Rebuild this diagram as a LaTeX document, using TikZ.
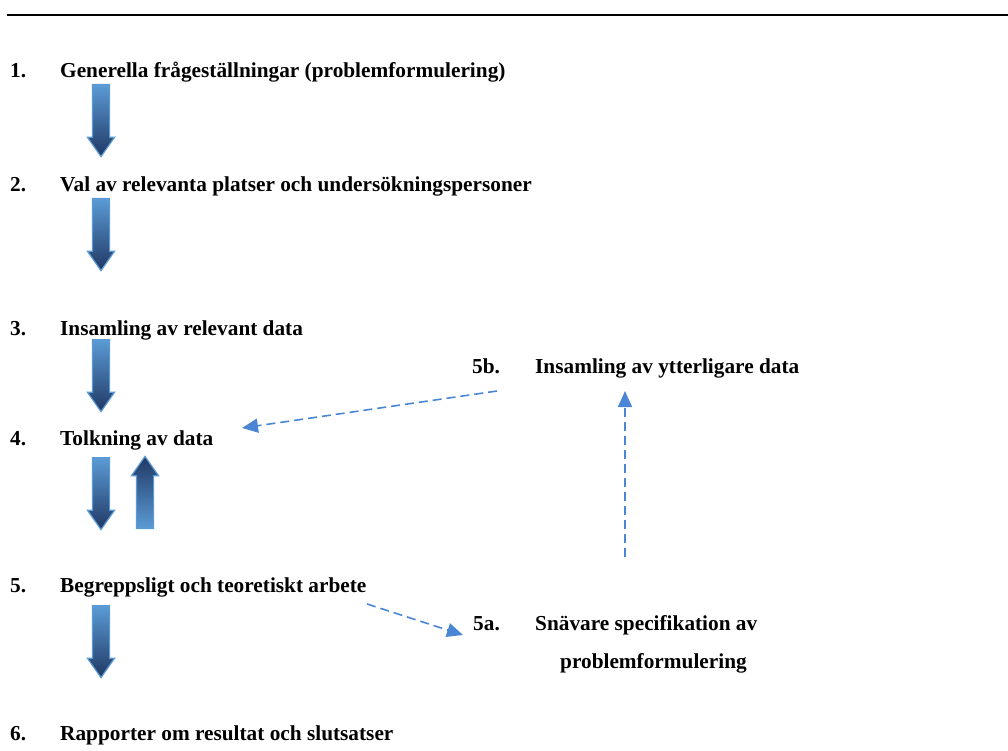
\documentclass[tikz,border=0pt]{standalone}
\usepackage{fontspec}
\setmainfont{Liberation Serif}
\usetikzlibrary{shapes.arrows,arrows.meta}

\definecolor{arrowlight}{HTML}{5B9BD5}
\definecolor{arrowdark}{HTML}{203864}
\definecolor{dashblue}{HTML}{4A86D4}

\tikzset{
	steptext/.style={anchor=base west, inner sep=0pt, font=\fontsize{21.3}{25}\selectfont\bfseries},
	blockdown/.style={single arrow, shape border rotate=270, anchor=tail, draw=arrowlight, line width=1.2pt,
		top color=arrowlight, bottom color=arrowdark, minimum height=72pt, minimum width=26pt,
		inner sep=8pt, single arrow head extend=5pt, single arrow tip angle=70},
	blockup/.style={blockdown, shape border rotate=90, top color=arrowdark, bottom color=arrowlight},
	dashlink/.style={dashblue, line width=1.6pt, dash pattern=on 9pt off 5pt,
		-{Triangle[length=16pt,width=14pt]}}
}

\begin{document}
\begin{tikzpicture}[x=1pt, y=-1pt]
	%\draw[help lines] (0,0) grid (1008,751);
	\useasboundingbox (0,0) rectangle (1008,751);
	\draw [line width=2pt] (7,15) -- (1008,15);

	\node [steptext] (num1) at (10, 78) {1.};
	\node [steptext] (step1) at (60, 78) {Generella frågeställningar (problemformulering)};
	\node [steptext] (num2) at (10, 192) {2.};
	\node [steptext] (step2) at (60, 192) {Val av relevanta platser och undersökningspersoner};
	\node [steptext] (num3) at (10, 335) {3.};
	\node [steptext] (step3) at (60, 335) {Insamling av relevant data};
	\node [steptext] (num4) at (10, 445) {4.};
	\node [steptext] (step4) at (60, 445) {Tolkning av data};
	\node [steptext] (num5) at (10, 592) {5.};
	\node [steptext] (step5) at (60, 592) {Begreppsligt och teoretiskt arbete};
	\node [steptext] (num6) at (10, 740) {6.};
	\node [steptext] (step6) at (60, 740) {Rapporter om resultat och slutsatser};

	\node [steptext] (num5b) at (472, 373) {5b.};
	\node [steptext] (step5b) at (535, 373) {Insamling av ytterligare data};
	\node [steptext] (num5a) at (473, 630) {5a.};
	\node [steptext] (step5a) at (535, 630) {Snävare specifikation av};
	\node [steptext] (step5a2) at (560, 668) {problemformulering};

	% block arrows
	\node [blockdown] (down1) at (101, 84) {};
	\node [blockdown] (down2) at (101, 198) {};
	\node [blockdown] (down3) at (101, 339) {};
	\node [blockdown] (down4) at (101, 457) {};
	\node [blockup] (up4) at (145, 529) {};
	\node [blockdown] (down5) at (101, 605) {};

	% dashed links
	\coordinate (from5b) at (497, 391);
	\coordinate (to4) at (242, 428);
	\coordinate (from5a) at (625, 557);
	\coordinate (to5b) at (625, 391);
	\coordinate (from5) at (367, 604);
	\coordinate (to5a) at (463, 635);
	\draw [dashlink] (from5b) -- (to4);
	\draw [dashlink] (from5a) -- (to5b);
	\draw [dashlink] (from5) -- (to5a);
\end{tikzpicture}
\end{document}
